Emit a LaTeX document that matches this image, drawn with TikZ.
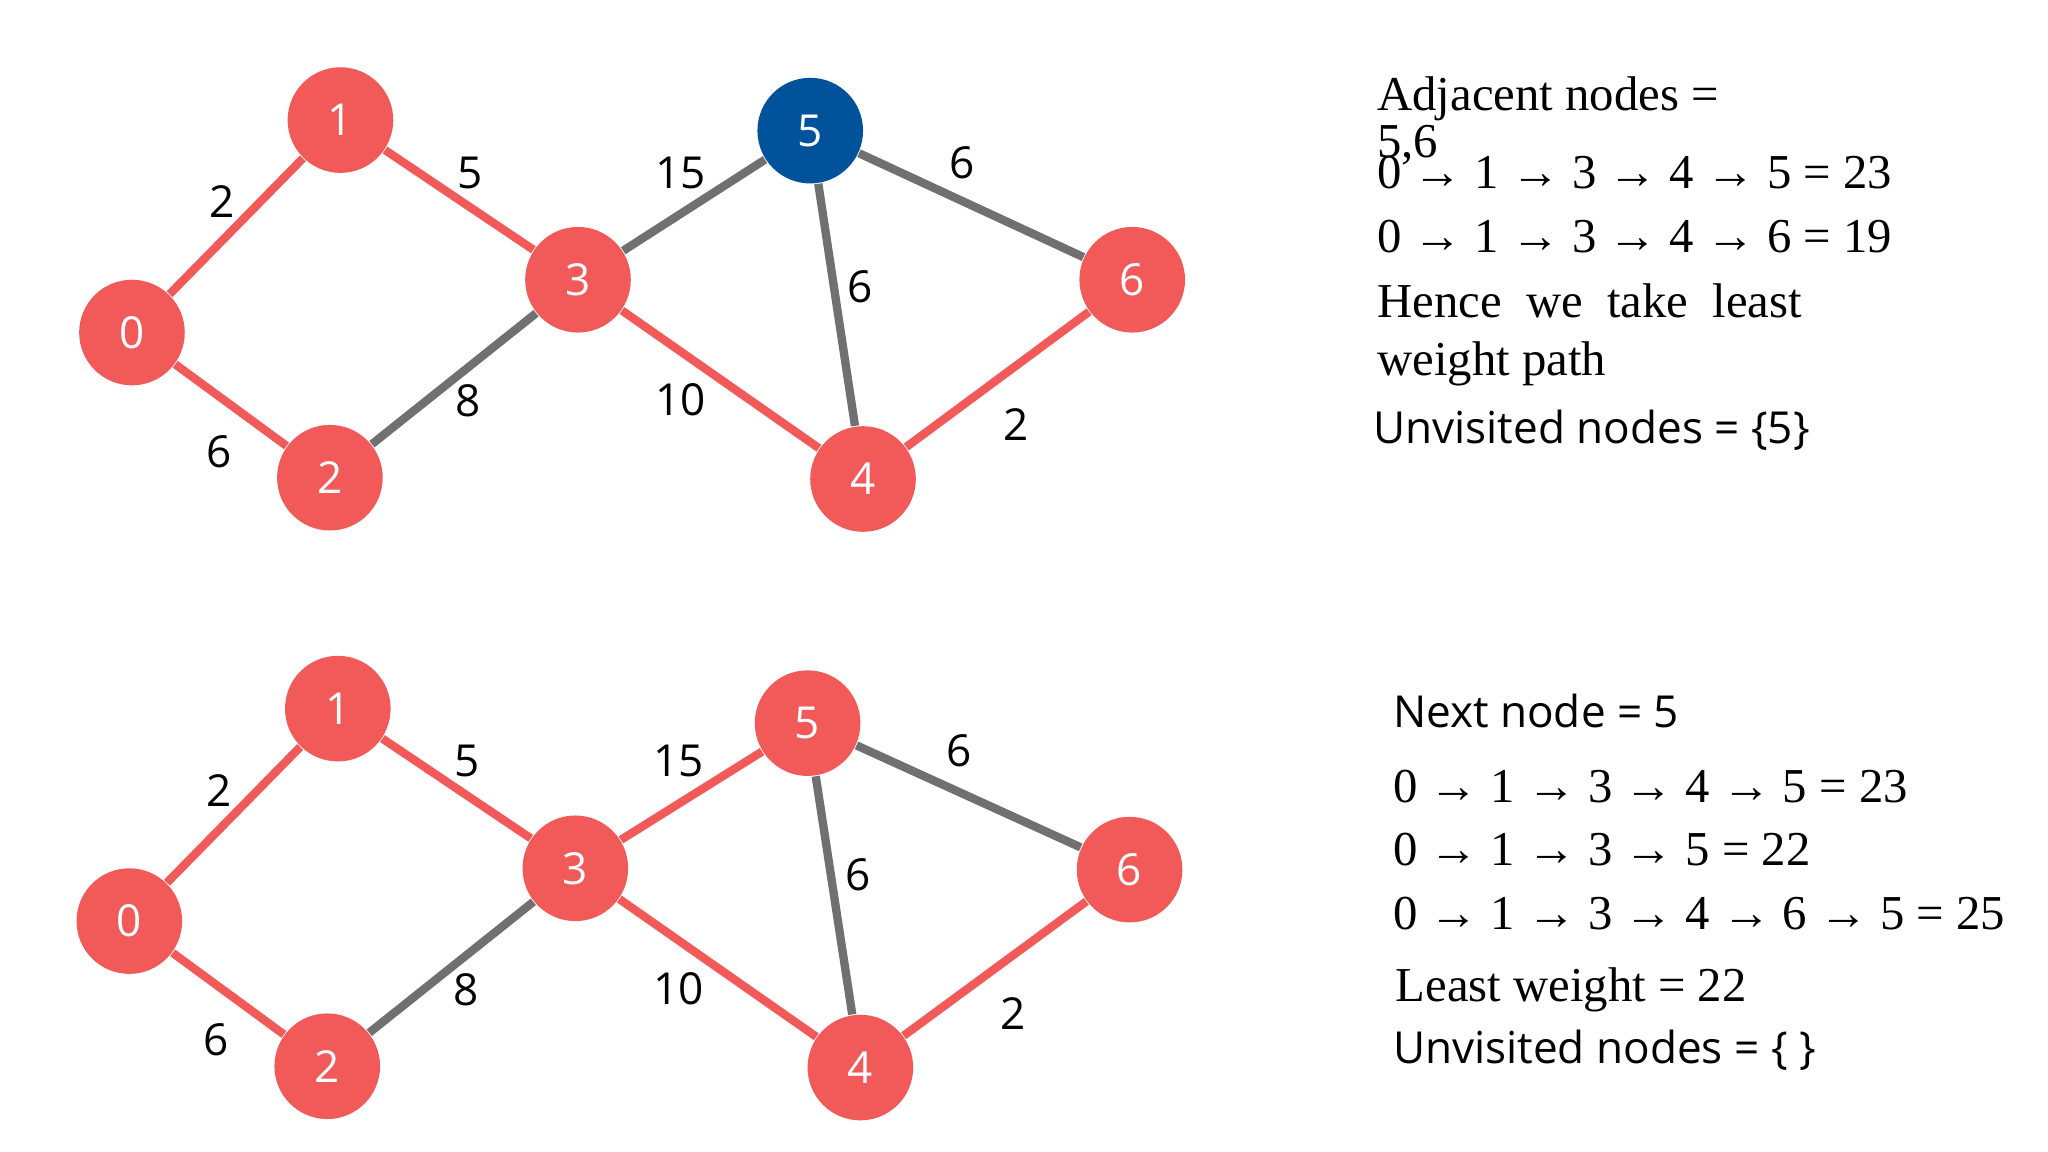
\documentclass[tikz,border=0pt]{standalone}
\usepackage{fontspec}
\setmainfont{Liberation Serif}
\newfontfamily\labelfont{Open Sans}
\usetikzlibrary{positioning}
\definecolor{vred}{HTML}{F25A5A}
\definecolor{vblue}{HTML}{00539B}
\definecolor{egrey}{HTML}{707070}
\tikzset{
vertex/.style = {circle, fill = vred, minimum size = 0.8cm, inner sep = 0pt,
	text = white, font = \labelfont\fontsize{9.5}{11}\selectfont},
current/.style = {vertex, fill = vblue},
visited/.style = {line width = 1.8pt, vred},
open/.style = {line width = 1.8pt, egrey},
weight/.style = {font = \labelfont\fontsize{9.5}{11}\selectfont},
serifline/.style = {anchor = west, inner sep = 0pt, font = \fontsize{10.5}{12}\selectfont},
sansline/.style = {anchor = west, inner sep = 0pt, font = \labelfont\fontsize{9.5}{11}\selectfont}
}
\begin{document}
\begin{tikzpicture}[x = 0.01cm, y = -0.01cm]
\useasboundingbox (0,0) rectangle (1552,873);

%% The upper graph
\node [vertex] (a0) at (100,252) {0};
\node [vertex] (a1) at (258,91) {1};
\node [vertex] (a2) at (250,362) {2};
\node [vertex] (a3) at (438,212) {3};
\node [vertex] (a4) at (654,363) {4};
\node [current] (a5) at (614,99) {5};
\node [vertex] (a6) at (858,212) {6};
\draw [visited] (a0) -- (a1);
\draw [visited] (a1) -- (a3);
\draw [visited] (a0) -- (a2);
\draw [open] (a2) -- (a3);
\draw [open] (a3) -- (a5);
\draw [visited] (a3) -- (a4);
\draw [open] (a5) -- (a4);
\draw [open] (a5) -- (a6);
\draw [visited] (a4) -- (a6);
\node [weight] (wa01) at (168,153) {2};
\node [weight] (wa13) at (356,131) {5};
\node [weight] (wa02) at (166,342) {6};
\node [weight] (wa23) at (355,304) {8};
\node [weight] (wa35) at (516,131) {15};
\node [weight] (wa34) at (516,303) {10};
\node [weight] (wa56) at (729,123) {6};
\node [weight] (wa54) at (652,217) {6};
\node [weight] (wa46) at (770,322) {2};

%% The lower graph
\node [vertex] (b0) at (98,698) {0};
\node [vertex] (b1) at (256,537) {1};
\node [vertex] (b2) at (248,808) {2};
\node [vertex] (b3) at (436,658) {3};
\node [vertex] (b4) at (652,809) {4};
\node [vertex] (b5) at (612,548) {5};
\node [vertex] (b6) at (856,659) {6};
\draw [visited] (b0) -- (b1);
\draw [visited] (b1) -- (b3);
\draw [visited] (b0) -- (b2);
\draw [open] (b2) -- (b3);
\draw [visited] (b3) -- (b5);
\draw [visited] (b3) -- (b4);
\draw [open] (b5) -- (b4);
\draw [open] (b5) -- (b6);
\draw [visited] (b4) -- (b6);
\node [weight] (wb01) at (166,599) {2};
\node [weight] (wb13) at (354,577) {5};
\node [weight] (wb02) at (164,788) {6};
\node [weight] (wb23) at (353,750) {8};
\node [weight] (wb35) at (514,577) {15};
\node [weight] (wb34) at (514,749) {10};
\node [weight] (wb56) at (727,569) {6};
\node [weight] (wb54) at (650,663) {6};
\node [weight] (wb46) at (768,768) {2};

%% The upper text
\node [serifline] (t1) at (1043,75) {Adjacent nodes =};
\node [serifline] (t2) at (1043,110) {5,6};
\node [serifline] (t3) at (1043,131) {0 → 1 → 3 → 4 → 5 = 23};
\node [serifline] (t4) at (1043,179) {0 → 1 → 3 → 4 → 6 = 19};
\node [serifline] (t5) at (1043,228) {Hence\ \ we\ \ take\ \ least};
\node [serifline] (t6) at (1043,276) {weight path};
\node [sansline] (t7) at (1040,326) {Unvisited nodes = \{5\}};

%% The lower text
\node [sansline] (u1) at (1055,539) {Next node = 5};
\node [serifline] (u2) at (1055,596) {0 → 1 → 3 → 4 → 5 = 23};
\node [serifline] (u3) at (1055,644) {0 → 1 → 3 → 5 = 22};
\node [serifline] (u4) at (1055,692) {0 → 1 → 3 → 4 → 6 → 5 = 25};
\node [serifline] (u5) at (1057,750) {Least weight = 22};
\node [sansline] (u6) at (1055,796) {Unvisited nodes = \{ \}};

\end{tikzpicture}
\end{document}
